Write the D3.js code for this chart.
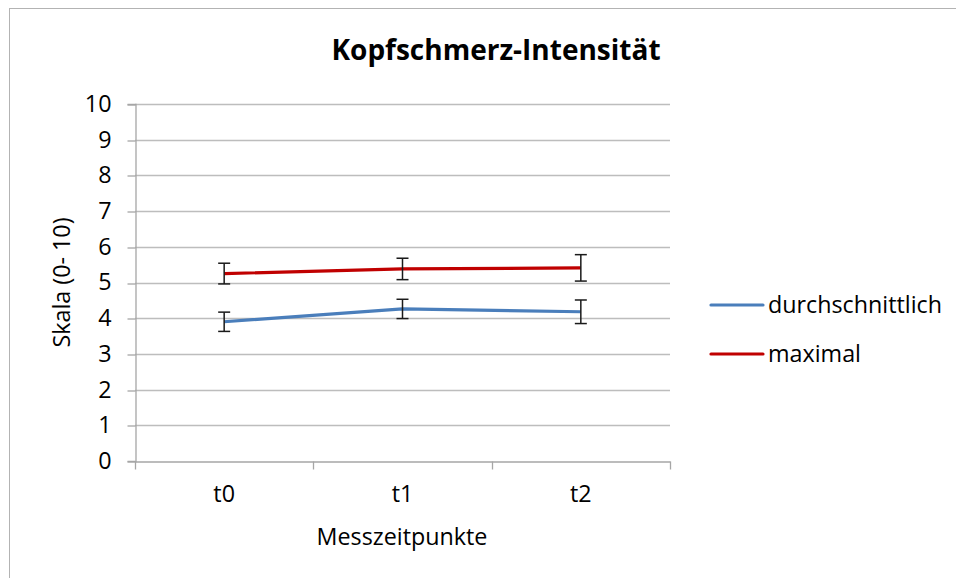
<!DOCTYPE html>
<html><head><meta charset="utf-8">
<script src="https://cdn.jsdelivr.net/npm/d3@7"></script>
<style>body{margin:0;background:#fff}svg{display:block}text{font-family:"Open Sans",sans-serif}</style>
</head><body>
<script>
const categories = ["t0", "t1", "t2"];
const seriesNames = ["durchschnittlich", "maximal"];
const avgValues = [3.90, 4.26, 4.18];
const avgErrors = [0.27, 0.27, 0.33];
const maxValues = [5.25, 5.38, 5.41];
const maxErrors = [0.29, 0.30, 0.37];
const yTicks = [0,1,2,3,4,5,6,7,8,9,10];
const title = "Kopfschmerz-Intensität";
const xTitle = "Messzeitpunkte";
const yTitle = "Skala (0- 10)";

const W = 956, H = 578;
const FS = 23.3;
const colors = ["#4a7ebb", "#c00000"];
const svg = d3.select("body").append("svg").attr("width", W).attr("height", H);

svg.append("rect").attr("x", 9.5).attr("y", 8.5).attr("width", 960).attr("height", 600)
  .attr("fill", "none").attr("stroke", "#b3b3b3").attr("stroke-width", 1);

const L = 135, R = 670, T = 104, B = 461;
const x = d3.scaleBand().domain(categories).range([L, R]);
const y = d3.scaleLinear().domain([0, 10]).range([B, T]);

// gridlines
svg.append("g").selectAll("line").data(yTicks.slice(1)).join("line")
  .attr("x1", L).attr("x2", R).attr("y1", d => Math.round(y(d)) + 0.5).attr("y2", d => Math.round(y(d)) + 0.5)
  .attr("stroke", "#bdbdbd").attr("stroke-width", 1.3);

// y axis
const yAxis = svg.append("g").attr("transform", `translate(${L + 0.5},0)`)
  .call(d3.axisLeft(y).tickValues(yTicks).tickSize(8).tickPadding(16).tickFormat(d3.format("d")));
yAxis.select(".domain").attr("stroke", "#a6a6a6").attr("stroke-width", 1.3);
yAxis.selectAll(".tick line").attr("stroke", "#a6a6a6").attr("stroke-width", 1.3)
  .attr("transform", d => `translate(0,${Math.round(y(d)) + 0.5 - y(d)})`);
yAxis.selectAll(".tick text").attr("font-size", FS).attr("fill", "#000").attr("font-family", "Open Sans");

// x axis
const xAxis = svg.append("g").attr("transform", `translate(0,${B + 0.5})`)
  .call(d3.axisBottom(x).tickSize(0).tickPadding(24));
xAxis.select(".domain").attr("stroke", "#a6a6a6").attr("stroke-width", 1.3);
xAxis.selectAll(".tick text").attr("font-size", FS).attr("fill", "#000").attr("font-family", "Open Sans");
const boundaries = [0, 1, 2, 3].map(i => L + i * x.step());
xAxis.append("g").selectAll("line").data(boundaries).join("line")
  .attr("x1", d => Math.round(d) + 0.5).attr("x2", d => Math.round(d) + 0.5).attr("y1", 0).attr("y2", 8)
  .attr("stroke", "#a6a6a6").attr("stroke-width", 1.3);

const cx = d => x(d) + x.bandwidth() / 2;
const series = [
  {name: seriesNames[0], vals: avgValues, errs: avgErrors, color: colors[0]},
  {name: seriesNames[1], vals: maxValues, errs: maxErrors, color: colors[1]}
];
const line = d3.line().x(d => cx(d.c)).y(d => y(d.v));
series.forEach(s => {
  const pts = categories.map((c, i) => ({c, v: s.vals[i], e: s.errs[i]}));
  svg.append("path").datum(pts).attr("d", line).attr("fill", "none")
    .attr("stroke", s.color).attr("stroke-width", 3.2).attr("stroke-linejoin", "round");
  const eb = svg.append("g").selectAll("g").data(pts).join("g").attr("stroke", "#1a1a1a").attr("stroke-width", 1.5);
  eb.append("line").attr("x1", d => cx(d.c)).attr("x2", d => cx(d.c)).attr("y1", d => y(d.v + d.e)).attr("y2", d => y(d.v - d.e));
  eb.append("line").attr("x1", d => cx(d.c) - 6).attr("x2", d => cx(d.c) + 6).attr("y1", d => y(d.v + d.e)).attr("y2", d => y(d.v + d.e));
  eb.append("line").attr("x1", d => cx(d.c) - 6).attr("x2", d => cx(d.c) + 6).attr("y1", d => y(d.v - d.e)).attr("y2", d => y(d.v - d.e));
});

// titles
svg.append("text").attr("x", 496).attr("y", 60).attr("text-anchor", "middle")
  .attr("font-size", 28).attr("font-weight", "bold").text(title);
svg.append("text").attr("x", 402).attr("y", 545).attr("text-anchor", "middle")
  .attr("font-size", FS).text(xTitle);
svg.append("text").attr("transform", `translate(70,${(T + B) / 2}) rotate(-90)`).attr("text-anchor", "middle")
  .attr("font-size", FS).text(yTitle);

// legend
const leg = svg.append("g").selectAll("g").data(series).join("g")
  .attr("transform", (d, i) => `translate(711,${305 + i * 49})`);
leg.append("line").attr("x1", 0).attr("x2", 52).attr("y1", 0).attr("y2", 0)
  .attr("stroke", d => d.color).attr("stroke-width", 3.2).attr("stroke-linecap", "round");
leg.append("text").attr("x", 57).attr("y", 0).attr("dy", "0.35em").attr("font-size", FS).text(d => d.name);
</script>
</body></html>
